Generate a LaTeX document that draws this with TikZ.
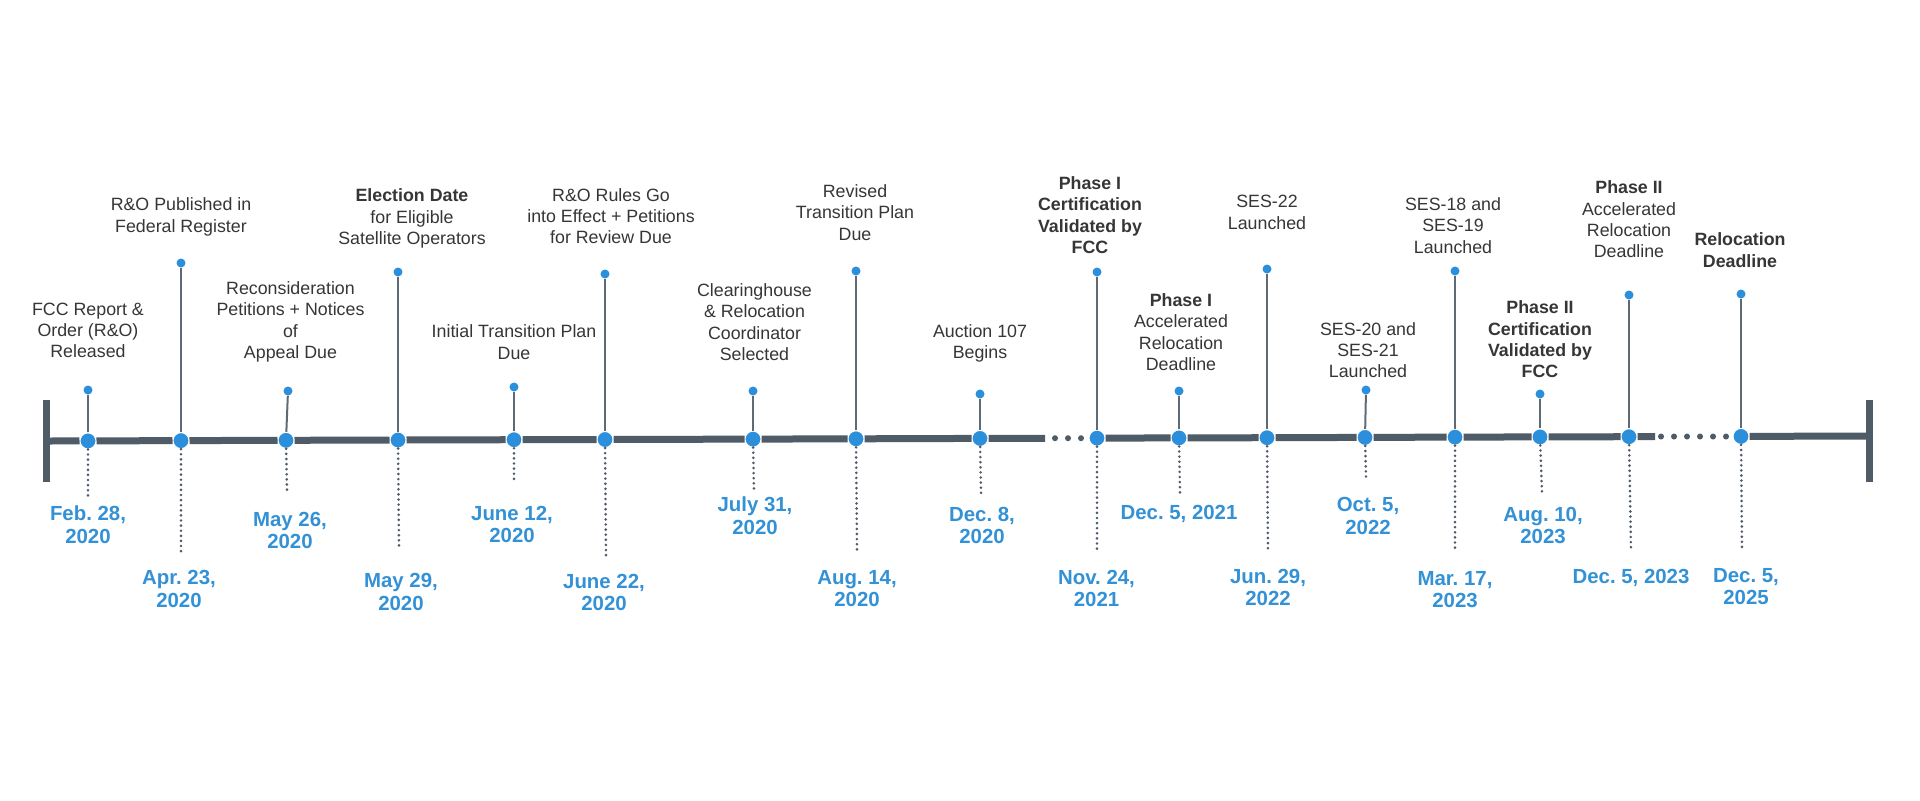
\documentclass[tikz,border=0pt]{standalone}
\usepackage{fontspec}
\setmainfont{Liberation Sans}
\usepackage{tikz}
\usetikzlibrary{positioning}
\definecolor{slate}{HTML}{4F5B66}
\definecolor{pinblue}{HTML}{2B8FDB}
\definecolor{dateblue}{HTML}{3391D6}
\definecolor{stemgray}{HTML}{5E6A75}
\definecolor{textgray}{HTML}{363636}
\frenchspacing

\begin{document}
\begin{tikzpicture}[
  x=0.5pt, y=-0.5pt,
  timeline/.style={line width=3.5pt, slate},
  endcap/.style={line width=3.5pt, slate},
  stemline/.style={line width=1pt, stemgray},
  guide/.style={line width=1.45pt, slate, line cap=round, dash pattern=on 0pt off 2.55pt},
  milestone/.style={circle, fill=pinblue, draw=white, line width=0.5pt, minimum size=8pt, inner sep=0pt},
  pinhead/.style={circle, fill=pinblue, minimum size=4.5pt, inner sep=0pt},
  gapdot/.style={circle, fill=slate, minimum size=3pt, inner sep=0pt},
  event/.style={align=center, text=textgray, inner sep=0pt, font=\fontsize{8.9}{10.65}\selectfont},
  eventbold/.style={event, font=\fontsize{8.9}{10.65}\selectfont\bfseries},
  datelabel/.style={align=center, text=dateblue, inner sep=0pt, font=\fontsize{10.2}{11.35}\selectfont\bfseries}
]
  \fill[white] (0,0) rectangle (1920,800);
  \useasboundingbox (0,0) rectangle (1920,800);

  \coordinate (lcap) at (46,441);
  \coordinate (lcaptop) at (46,400);
  \coordinate (lcapbot) at (46,482);
  \coordinate (rcap) at (1869,436);
  \coordinate (rcaptop) at (1869,400);
  \coordinate (rcapbot) at (1869,482);
  \coordinate (gapa) at (1045,438.3);
  \coordinate (gapb) at (1655,436.6);

  \node[milestone] (released) at (88,440.9) {};
  \node[milestone] (published) at (181,440.6) {};
  \node[milestone] (petitions) at (286,440.3) {};
  \node[milestone] (election) at (398,440.0) {};
  \node[milestone] (initplan) at (514,439.7) {};
  \node[milestone] (effect) at (605,439.5) {};
  \node[milestone] (coordinator) at (753,439.1) {};
  \node[milestone] (revised) at (856,438.8) {};
  \node[milestone] (auction) at (980,438.4) {};
  \node[milestone] (phaseone) at (1097,438.1) {};
  \node[milestone] (acceleone) at (1179,437.9) {};
  \node[milestone] (sestwentytwo) at (1267,437.7) {};
  \node[milestone] (sestwenty) at (1365,437.4) {};
  \node[milestone] (seseighteen) at (1455,437.1) {};
  \node[milestone] (phasetwo) at (1540,436.9) {};
  \node[milestone] (acceletwo) at (1629,436.7) {};
  \node[milestone] (relocation) at (1741,436.4) {};

  \foreach \x in {1055,1068,1081}
    \node[gapdot] at (\x,438.2) {};
  \foreach \x in {1661,1674,1687,1700,1713,1726}
    \node[gapdot] at (\x,436.5) {};

  \node[pinhead] (releasedpin) at (88,390) {};
  \node[pinhead] (publishedpin) at (181,263) {};
  \node[pinhead] (petitionspin) at (288,391) {};
  \node[pinhead] (electionpin) at (398,272) {};
  \node[pinhead] (initplanpin) at (514,387) {};
  \node[pinhead] (effectpin) at (605,274) {};
  \node[pinhead] (coordinatorpin) at (753,391) {};
  \node[pinhead] (revisedpin) at (856,271) {};
  \node[pinhead] (auctionpin) at (980,394) {};
  \node[pinhead] (phaseonepin) at (1097,272) {};
  \node[pinhead] (acceleonepin) at (1179,391) {};
  \node[pinhead] (sestwentytwopin) at (1267,269) {};
  \node[pinhead] (sestwentypin) at (1366,390) {};
  \node[pinhead] (seseighteenpin) at (1455,271) {};
  \node[pinhead] (phasetwopin) at (1540,394) {};
  \node[pinhead] (acceletwopin) at (1629,295) {};
  \node[pinhead] (relocationpin) at (1741,294) {};

  \node[event] (releasedtxt) at (88,330.5) {FCC Report \&\\Order (R\&O)\\Released};
  \node[event] (publishedtxt) at (181,217) {R\&O Published in\\Federal Register};
  \node[event] (petitionstxt) at (290.5,322) {Reconsideration\\Petitions + Notices\\of\\Appeal Due};
  \node[event] (electiontxt) at (412,218.5) {\textbf{Election Date}\\for Eligible\\Satellite Operators};
  \node[event] (initplantxt) at (514,342) {Initial Transition Plan\\Due};
  \node[event] (effecttxt) at (611,216) {R\&O Rules Go\\into Effect + Petitions\\for Review Due};
  \node[event] (coordinatortxt) at (754.5,322) {Clearinghouse\\\& Relocation\\Coordinator\\Selected};
  \node[event] (revisedtxt) at (855,212.5) {Revised\\Transition Plan\\Due};
  \node[event] (auctiontxt) at (980,343.5) {Auction 107\\Begins};
  \node[eventbold] (phaseonetxt) at (1090,215) {Phase I\\Certification\\Validated by\\FCC};
  \node[event] (acceleonetxt) at (1181,332) {\textbf{Phase I}\\Accelerated\\Relocation\\Deadline};
  \node[event] (sestwentytwotxt) at (1267,212.5) {SES-22\\Launched};
  \node[event] (sestwentytxt) at (1368,350) {SES-20 and\\SES-21\\Launched};
  \node[event] (seseighteentxt) at (1453,225.5) {SES-18 and\\SES-19\\Launched};
  \node[eventbold] (phasetwotxt) at (1540,339.5) {Phase II\\Certification\\Validated by\\FCC};
  \node[event] (acceletwotxt) at (1629,219.5) {\textbf{Phase II}\\Accelerated\\Relocation\\Deadline};
  \node[eventbold] (relocationtxt) at (1740,250) {Relocation\\Deadline};

  \coordinate (releasedend) at (88,500);
  \coordinate (publishedend) at (181,552);
  \coordinate (petitionsend) at (287,491);
  \coordinate (electionend) at (399,548);
  \coordinate (initplanend) at (514,480);
  \coordinate (effectend) at (606,557);
  \coordinate (coordinatorend) at (754,493);
  \coordinate (revisedend) at (857,552);
  \coordinate (auctionend) at (981,493);
  \coordinate (phaseoneend) at (1097,553);
  \coordinate (acceleoneend) at (1180,493);
  \coordinate (sestwentytwoend) at (1268,552);
  \coordinate (sestwentyend) at (1366,477);
  \coordinate (seseighteenend) at (1455,552);
  \coordinate (phasetwoend) at (1542,493);
  \coordinate (acceletwoend) at (1631,550);
  \coordinate (relocationend) at (1742,550);

  \node[datelabel] (releaseddate) at (88,525) {Feb. 28,\\2020};
  \node[datelabel] (publisheddate) at (179,589) {Apr. 23,\\2020};
  \node[datelabel] (petitionsdate) at (290,530.5) {May 26,\\2020};
  \node[datelabel] (electiondate) at (401,592) {May 29,\\2020};
  \node[datelabel] (initplandate) at (512,524.5) {June 12,\\2020};
  \node[datelabel] (effectdate) at (604,592.5) {June 22,\\2020};
  \node[datelabel] (coordinatordate) at (755,516) {July 31,\\2020};
  \node[datelabel] (reviseddate) at (857,588.5) {Aug. 14,\\2020};
  \node[datelabel] (auctiondate) at (982,525.5) {Dec. 8,\\2020};
  \node[datelabel] (phaseonedate) at (1096.5,588.5) {Nov. 24,\\2021};
  \node[datelabel] (acceleonedate) at (1179,514) {Dec. 5, 2021};
  \node[datelabel] (sestwentytwodate) at (1268,587.5) {Jun. 29,\\2022};
  \node[datelabel] (sestwentydate) at (1368,516) {Oct. 5,\\2022};
  \node[datelabel] (seseighteendate) at (1455,589.5) {Mar. 17,\\2023};
  \node[datelabel] (phasetwodate) at (1543,525.5) {Aug. 10,\\2023};
  \node[datelabel] (acceletwodate) at (1631,578) {Dec. 5, 2023};
  \node[datelabel] (relocationdate) at (1746,586.5) {Dec. 5,\\2025};

  \draw[endcap] (lcaptop) -- (lcapbot);
  \draw[endcap] (rcaptop) -- (rcapbot);
  \draw[timeline] (lcap) -- (released) -- (published) -- (petitions) -- (election) -- (initplan)
    -- (effect) -- (coordinator) -- (revised) -- (auction) -- (gapa);
  \draw[timeline] (phaseone) -- (acceleone) -- (sestwentytwo) -- (sestwenty) -- (seseighteen)
    -- (phasetwo) -- (acceletwo) -- (gapb);
  \draw[timeline] (relocation) -- (rcap);

  \foreach \ev in {released,published,petitions,election,initplan,effect,coordinator,revised,auction,
    phaseone,acceleone,sestwentytwo,sestwenty,seseighteen,phasetwo,acceletwo,relocation} {
    \draw[stemline] (\ev) -- (\ev pin);
    \draw[guide] (\ev) -- (\ev end);
  }
\end{tikzpicture}
\end{document}
